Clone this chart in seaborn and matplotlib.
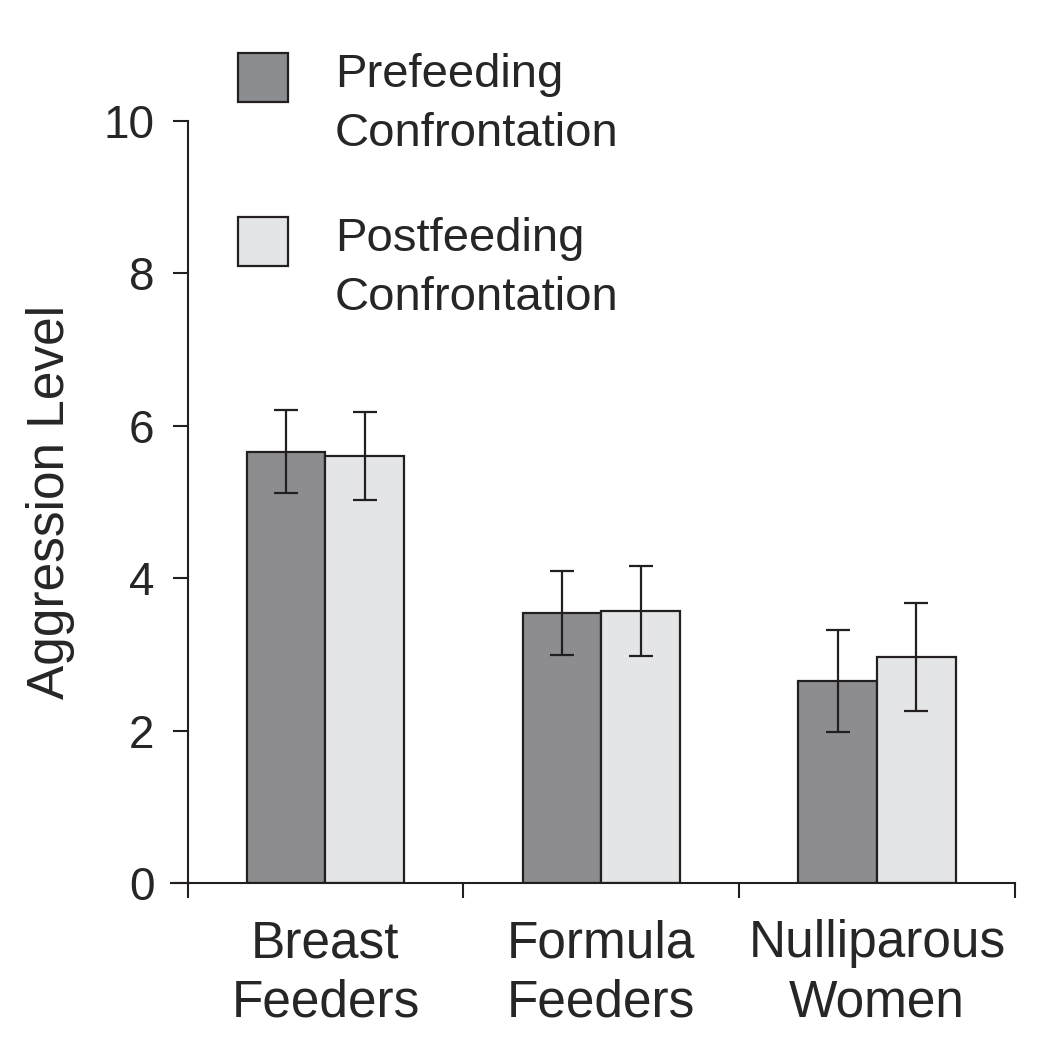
import numpy as np
import pandas as pd
import seaborn as sns
import matplotlib.pyplot as plt
from matplotlib.patches import Patch, Rectangle
from matplotlib.ticker import FixedLocator
from matplotlib.legend_handler import HandlerPatch

# DATA
groups = ["Breast\nFeeders", "Formula\nFeeders", "Nulliparous\nWomen"]
conditions = ["Prefeeding\nConfrontation", "Postfeeding\nConfrontation"]
pre_mean = [5.66, 3.54, 2.65]
post_mean = [5.60, 3.57, 2.97]
pre_err = [0.54, 0.55, 0.67]
post_err = [0.58, 0.59, 0.71]

df = pd.DataFrame({
    "group": groups * 2,
    "condition": [conditions[0]] * 3 + [conditions[1]] * 3,
    "level": pre_mean + post_mean,
    "err": pre_err + post_err,
})

sns.set_style("ticks")
plt.rcParams["font.family"] = ["Liberation Sans", "DejaVu Sans"]

colors = ["#8c8d90", "#e4e5e6"]
ink = "#231f20"

fig = plt.figure(figsize=(10.43, 10.50), dpi=100)
ax = fig.add_axes([0.164, 0.159, 0.809, 0.726])

sns.barplot(
    data=df, x="group", y="level", hue="condition",
    hue_order=conditions, palette=colors, width=0.57,
    errorbar=None, edgecolor=ink, linewidth=1.6, legend=False, ax=ax
)

# error bars from the stored SE values
for cont, cond in zip(ax.containers, conditions):
    sub = df[df["condition"] == cond]
    xs = [b.get_x() + b.get_width() / 2 for b in cont]
    ax.errorbar(xs, sub["level"].values, yerr=sub["err"].values, fmt="none",
                ecolor=ink, elinewidth=1.6, capsize=8.5, capthick=1.6, zorder=5)

ax.set_xlim(-0.56, 2.5)
ax.set_ylim(0, 10)
ax.spines["left"].set_position(("data", -0.5))
ax.spines["left"].set_bounds(0, 10)
ax.spines["top"].set_visible(False)
ax.spines["right"].set_visible(False)
for s in ["left", "bottom"]:
    ax.spines[s].set_linewidth(1.5)
    ax.spines[s].set_color(ink)

ax.set_yticks([0, 2, 4, 6, 8, 10])
ax.tick_params(axis="y", labelsize=33, length=11, width=1.5, color=ink, pad=13)
ax.tick_params(axis="x", which="major", labelsize=37, length=0, pad=26)
for t in ax.get_xticklabels():
    t.set_linespacing(1.28)
ax.xaxis.set_minor_locator(FixedLocator([-0.5, 0.5, 1.5, 2.5]))
ax.tick_params(axis="x", which="minor", length=11, width=1.5, color=ink)

ax.set_xlabel("")
ax.set_ylabel("Aggression Level", fontsize=37, labelpad=20)


# square handle sitting next to the first line of the two-line label
def top_square(legend, orig_handle, xdescent, ydescent, width, height, fontsize):
    return Rectangle((-xdescent, -ydescent + height - width + 10.5), width, width)


handles = [Patch(facecolor=c, edgecolor=ink, linewidth=1.6) for c in colors]
leg = fig.legend(handles, conditions, loc="upper left", bbox_to_anchor=(0.206, 0.972),
                 frameon=False, fontsize=34, handlelength=1.04, handleheight=2.2,
                 handletextpad=1.0, labelspacing=1.28, borderpad=0,
                 handler_map={Patch: HandlerPatch(patch_func=top_square)})
for t in leg.get_texts():
    t.set_linespacing(1.45)

plt.savefig("out.png", dpi=100)
